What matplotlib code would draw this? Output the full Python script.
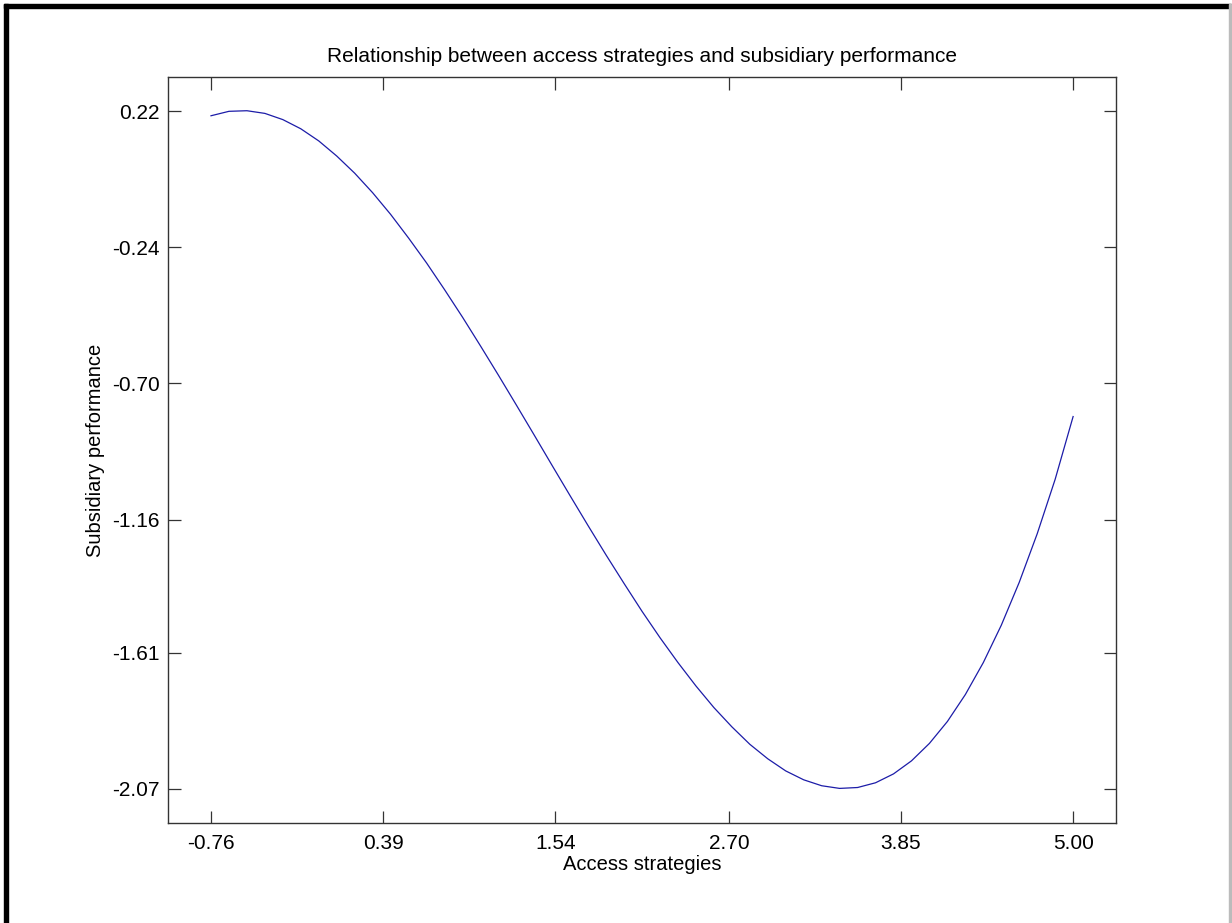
import matplotlib
matplotlib.use('Agg')
from matplotlib import pyplot as plt
from matplotlib.patches import Rectangle

## Curve (access strategies vs subsidiary performance)
access = [-0.76, -0.64, -0.52, -0.40, -0.28, -0.16, -0.04, 0.08, 0.20, 0.32,
          0.44, 0.56, 0.68, 0.80, 0.92, 1.04, 1.16, 1.28, 1.40, 1.52,
          1.64, 1.76, 1.88, 2.00, 2.12, 2.24, 2.36, 2.48, 2.60, 2.72,
          2.84, 2.96, 3.08, 3.20, 3.32, 3.44, 3.56, 3.68, 3.80, 3.92,
          4.04, 4.16, 4.28, 4.40, 4.52, 4.64, 4.76, 4.88, 5.00]
performance = [0.204, 0.219, 0.221, 0.212, 0.191, 0.160, 0.119, 0.068, 0.010, -0.056,
               -0.129, -0.209, -0.293, -0.383, -0.476, -0.573, -0.672, -0.773, -0.875, -0.978,
               -1.080, -1.181, -1.280, -1.376, -1.470, -1.559, -1.643, -1.722, -1.795, -1.860,
               -1.919, -1.968, -2.009, -2.039, -2.059, -2.068, -2.065, -2.049, -2.019, -1.975,
               -1.916, -1.842, -1.751, -1.643, -1.517, -1.372, -1.208, -1.024, -0.812]

xticks = [-0.76, 0.39, 1.54, 2.70, 3.85, 5.00]
yticks = [-2.07, -1.61, -1.16, -0.70, -0.24, 0.22]

plt.rcParams['font.family'] = ['Liberation Sans', 'DejaVu Sans']

fig = plt.figure(figsize=(12.32, 9.23), dpi=100)
ax = fig.add_axes([0.1364, 0.1083, 0.7695, 0.8083])

ax.plot(access, performance, color='#1c1ca8', lw=0.9)

ax.set_xlim(-1.047, 5.287)
ax.set_ylim(-2.185, 0.335)
ax.set_xticks(xticks)
ax.set_xticklabels(['%.2f' % v for v in xticks])
ax.set_yticks(yticks)
ax.set_yticklabels(['%.2f' % v for v in yticks])
ax.tick_params(direction='in', length=9, width=0.9, top=True, right=True,
               labelsize=15, color='#333333')
ax.tick_params(axis='x', pad=8)
ax.tick_params(axis='y', pad=6)
for s in ax.spines.values():
    s.set_linewidth(1.0)
    s.set_color('#333333')

ax.set_xlabel('Access strategies', fontsize=14.5, labelpad=1)
ax.set_ylabel('Subsidiary performance', fontsize=14.5, labelpad=5)
ax.set_title('Relationship between access strategies and subsidiary performance',
             fontsize=15, pad=11)

## Frame around the picture: thick black left/top, thin grey right
fig.patches.append(Rectangle((4/1232, 0), 4/1232, 1 - 4/923, transform=fig.transFigure,
                             color='black', zorder=10))
fig.patches.append(Rectangle((4/1232, 1 - 8/923), 1 - 5/1232, 4/923, transform=fig.transFigure,
                             color='black', zorder=10))
fig.patches.append(Rectangle((1229/1232, 0), 1.5/1232, 1 - 4/923, transform=fig.transFigure,
                             color='#bbbbbb', zorder=10))

fig.savefig('out.png', dpi=100)
